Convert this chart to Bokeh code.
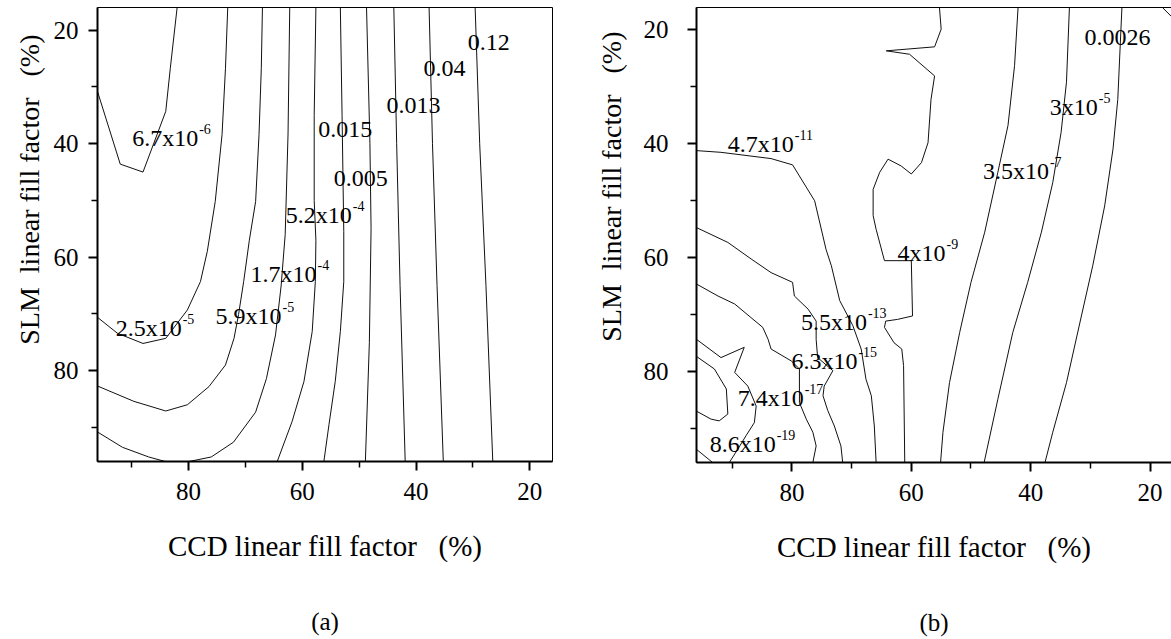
from bokeh.plotting import figure
from bokeh.models import Range1d, FixedTicker, Title, ColumnDataSource
from bokeh.layouts import row
from bokeh.embed import file_html
from bokeh.resources import INLINE
from bokeh.core.properties import value

FONT = "Liberation Serif"

# ---------------- Panel (a) contour lines: CCD fill factor (x), SLM fill factor (y)
a1_ccd = [96, 92.0, 88.0, 84.0, 83.2, 82.0]
a1_slm = [30.8, 43.6, 45.0, 34.3, 26.7, 16.0]
a2_ccd = [96, 92.5, 88.0, 84.0, 80.2, 77.9, 76.7, 75.3, 74.1, 73.5, 73.1]
a2_slm = [70.6, 73.4, 75.2, 74.3, 69.3, 64.3, 59.0, 50.2, 38.4, 26.7, 16.0]
a3_ccd = [96, 89.6, 84.0, 80.2, 76.4, 73.5, 72.0, 71.2, 70.3, 69.3, 68.2, 67.6, 67.2, 67.0]
a3_slm = [82.7, 85.4, 87.1, 86.0, 82.8, 79.0, 74.3, 70.1, 64.3, 57.0, 50.2, 38.4, 26.7, 16.0]
a4_ccd = [96, 91.6, 87.0, 84.1, 79.9, 76.0, 72.1, 68.2, 66.3, 64.7, 63.7, 63.0, 62.5, 62.2]
a4_slm = [90.8, 93.5, 95.2, 96.0, 96.0, 95.2, 92.6, 87.3, 81.4, 73.7, 64.9, 56.0, 38.3, 16.0]
a5_ccd = [57.6, 57.9, 57.9, 57.6, 57.7, 58.25, 59.7, 61.8, 64.4]
a5_slm = [16, 35, 50, 57, 64.3, 73.1, 81.9, 89.0, 96]
a6_ccd = [53.3, 53.0, 52.7, 52.7, 53.3, 54.2, 55.3, 56.2]
a6_slm = [16, 35, 55.5, 64.3, 73.1, 81.9, 89.5, 96]
a7_ccd = [48.7, 48.1, 47.9, 48.2, 48.9]
a7_slm = [16, 40, 55, 75, 96]
a8_ccd = [43.9, 43.4, 42.8, 41.9]
a8_slm = [16, 40, 65, 96]
a9_ccd = [37.7, 37.1, 36.3, 35.2]
a9_slm = [16, 40, 65, 96]
a10_ccd = [29.6, 28.8, 27.7, 26.5]
a10_slm = [16, 40, 65, 96]

a_lab_base = ["6.7x10", "2.5x10", "5.9x10", "1.7x10", "5.2x10", "0.005", "0.015", "0.013", "0.04", "0.12"]
a_lab_exp = ["-6", "-5", "-5", "-4", "-4", "", "", "", "", ""]
a_lab_ccd = [89.9, 92.8, 75.25, 69.1, 62.9, 54.45, 57.2, 45.2, 38.7, 30.9]
a_lab_slm = [39.0, 72.5, 70.4, 63.0, 52.5, 46.05, 37.5, 33.3, 26.8, 22.1]

# ---------------- Panel (b) contour lines
b1_ccd = [18.1, 16.4]
b1_slm = [16, 17.8]
b2_ccd = [24.7, 25.4, 26.2, 27.6, 29.6, 31.5, 34.0, 36.3, 37.6]
b2_slm = [16, 32.3, 41.0, 51.0, 61.5, 70.3, 82.0, 90.7, 96]
b3_ccd = [33.5, 34.0, 34.9, 36.3, 38.2, 40.5, 43.0, 45.5, 47.8]
b3_slm = [16, 29.3, 38.1, 46.9, 55.6, 64.4, 73.2, 84.9, 96]
b4_ccd = [42.1, 42.7, 43.8, 45.5, 47.7, 50.0, 51.9, 53.6, 54.7, 55.1]
b4_slm = [16, 26.4, 36.9, 45.1, 55.6, 64.4, 73.2, 82.0, 90.7, 96]
b5_ccd = [55.3, 55.0, 56.1, 64.2, 60.3, 56.1, 56.7, 57.2, 58.3, 60.0, 61.7, 63.9, 65.3, 66.4,
          66.4, 65.9, 64.5, 60.0, 59.8, 62.3, 64.3, 64.5, 62.9, 61.6, 61.3, 61.1]
b5_slm = [16, 20.0, 23.1, 23.8, 24.4, 28.2, 32.3, 39.9, 43.4, 45.4, 44.0, 42.8, 45.1, 48.1,
          52.7, 55.1, 60.6, 60.6, 70.3, 70.9, 71.2, 72.3, 75.0, 76.1, 79.0, 96]
b6_ccd = [96, 91.9, 83.5, 79.9, 76.2, 74.3, 73.4, 72.0, 69.8, 68.4, 67.6, 66.7, 66.2, 65.9]
b6_slm = [41.3, 41.6, 42.7, 43.8, 50.1, 58.6, 61.5, 67.6, 72.0, 76.1, 81.4, 84.3, 89.6, 96]
b7_ccd = [96, 90.75, 86.85, 83.5, 79.9, 79.6, 77.3, 75.95, 75.95, 75.7, 73.15, 74.6, 74.8, 74.0, 72.9, 71.8, 71.5]
b7_slm = [54.8, 57.4, 60.3, 62.7, 64.4, 66.8, 69.1, 71.2, 74.4, 77.6, 79.9, 82.6, 84.3, 86.9, 89.6, 93.1, 96]
b8_ccd = [96, 92.4, 89.6, 86.85, 84.9, 84.0, 83.5, 80.1, 78.75, 78.75, 77.6, 76.5, 75.95, 76.5]
b8_slm = [64.7, 66.8, 68.2, 70.6, 72.3, 74.4, 76.1, 78.2, 79.6, 85.5, 88.4, 90.7, 93.1, 96]
b9_ccd = [96, 91.9, 88.0, 89.6, 87.4, 86.0, 86.3, 87.7, 89.1, 90.5]
b9_slm = [74.4, 77.6, 75.8, 80.2, 82.6, 86.1, 89.0, 91.3, 93.7, 96]
b10_ccd = [96, 93.0, 91.0, 90.75, 92.2, 93.55, 96]
b10_slm = [77.4, 79.6, 83.1, 87.5, 88.7, 88.4, 87.0]
b11_ccd = [96, 93.3]
b11_slm = [93.7, 96]

b_lab_base = ["0.0026", "3x10", "3.5x10", "4x10", "4.7x10", "5.5x10", "6.3x10", "7.4x10", "8.6x10"]
b_lab_exp = ["", "-5", "-7", "-9", "-11", "-13", "-15", "-17", "-19"]
b_lab_ccd = [31.0, 36.8, 48.0, 62.3, 90.75, 78.5, 80.1, 89.1, 93.8]
b_lab_slm = [21.4, 33.7, 44.8, 59.2, 40.2, 71.4, 78.2, 84.6, 92.8]

x_ticks = [20, 40, 60, 80]
x_minor = [30, 50, 70, 90]
y_ticks = [20, 40, 60, 80]
y_minor = [30, 50, 70, 90]

x_label = "CCD linear fill factor\u00a0\u00a0\u00a0(%)"
y_label = "SLM\u00a0\u00a0linear fill factor\u00a0\u00a0\u00a0(%)"

LABEL_PX = 24
EXP_PX = 14
EM = {".": 0.25, "x": 0.5}


def text_width(s):
    return sum(EM.get(c, 0.5) for c in s) * LABEL_PX


def make_panel(lines, bases, exps, lab_x, lab_y, xr, yr, left, fw, fh, top, right,
               y_standoff, ylab_offset, ylab_standoff, tag):
    p = figure(width=left + fw + right, height=639, output_backend="svg", toolbar_location=None,
               x_range=Range1d(*xr), y_range=Range1d(*yr), frame_width=fw, frame_height=fh,
               min_border_left=left, min_border_right=right, min_border_top=top,
               min_border_bottom=639 - top - fh, background_fill_color="white",
               border_fill_color="white")
    p.xgrid.visible = False
    p.ygrid.visible = False
    p.outline_line_color = "black"
    p.outline_line_width = 1
    p.outline_line_alpha = 1

    p.xaxis.ticker = FixedTicker(ticks=x_ticks, minor_ticks=x_minor)
    p.yaxis.ticker = FixedTicker(ticks=y_ticks, minor_ticks=y_minor)
    for ax in (p.xaxis[0], p.yaxis[0]):
        ax.axis_line_width = 2
        ax.axis_line_color = "black"
        ax.major_tick_line_width = 2
        ax.minor_tick_line_width = 1.5
        ax.major_tick_in = 0
        ax.major_tick_out = 9
        ax.minor_tick_in = 0
        ax.minor_tick_out = 6
        ax.major_label_text_font = FONT
        ax.major_label_text_font_size = "25px"
        ax.major_label_text_color = "black"
    p.xaxis.major_label_standoff = 12
    p.yaxis.major_label_standoff = y_standoff
    p.xaxis.axis_label = x_label
    p.xaxis.axis_label_text_font = FONT
    p.xaxis.axis_label_text_font_size = "29px"
    p.xaxis.axis_label_text_font_style = "normal"
    p.xaxis.axis_label_text_color = "black"
    p.xaxis.axis_label_standoff = 27

    yt = Title(text=y_label, align="right", offset=ylab_offset, standoff=ylab_standoff,
               text_font=FONT, text_font_size="28px", text_font_style="normal",
               text_color="black")
    p.add_layout(yt, "left")
    bt = Title(text=tag, align="center", standoff=82, text_font=FONT, text_font_size="25px",
               text_font_style="normal", text_color="black")
    p.add_layout(bt, "below")

    for xs, ys in lines:
        p.line(xs, ys, line_color="#111111", line_width=1)

    src = ColumnDataSource(dict(x=lab_x, y=lab_y, base=bases, exp=exps,
                                xoff=[text_width(b) + 1 for b in bases]))
    p.text(x="x", y="y", text="base", source=src, text_font=value(FONT),
           text_font_size=f"{LABEL_PX}px", text_align="left", text_baseline="middle",
           text_color="black")
    p.text(x="x", y="y", text="exp", source=src, x_offset="xoff", y_offset=-9,
           text_font=value(FONT), text_font_size=f"{EXP_PX}px", text_align="left",
           text_baseline="middle", text_color="black")
    return p


lines_a = [(a1_ccd, a1_slm), (a2_ccd, a2_slm), (a3_ccd, a3_slm), (a4_ccd, a4_slm),
           (a5_ccd, a5_slm), (a6_ccd, a6_slm), (a7_ccd, a7_slm), (a8_ccd, a8_slm),
           (a9_ccd, a9_slm), (a10_ccd, a10_slm)]
lines_b = [(b1_ccd, b1_slm), (b2_ccd, b2_slm), (b3_ccd, b3_slm), (b4_ccd, b4_slm),
           (b5_ccd, b5_slm), (b6_ccd, b6_slm), (b7_ccd, b7_slm), (b8_ccd, b8_slm),
           (b9_ccd, b9_slm), (b10_ccd, b10_slm), (b11_ccd, b11_slm)]

pa = make_panel(lines_a, a_lab_base, a_lab_exp, a_lab_ccd, a_lab_slm,
                (96, 16), (96, 16), 97, 455, 454, 6, 28, 10, 27, 12, "(a)")
pb = make_panel(lines_b, b_lab_base, b_lab_exp, b_lab_ccd, b_lab_slm,
                (96, 16.4), (96, 16.2), 115, 475, 455, 7, 1, 19, 24, 27, "(b)")

layout = row(pa, pb)
open("out.html", "w").write(file_html(layout, INLINE))
